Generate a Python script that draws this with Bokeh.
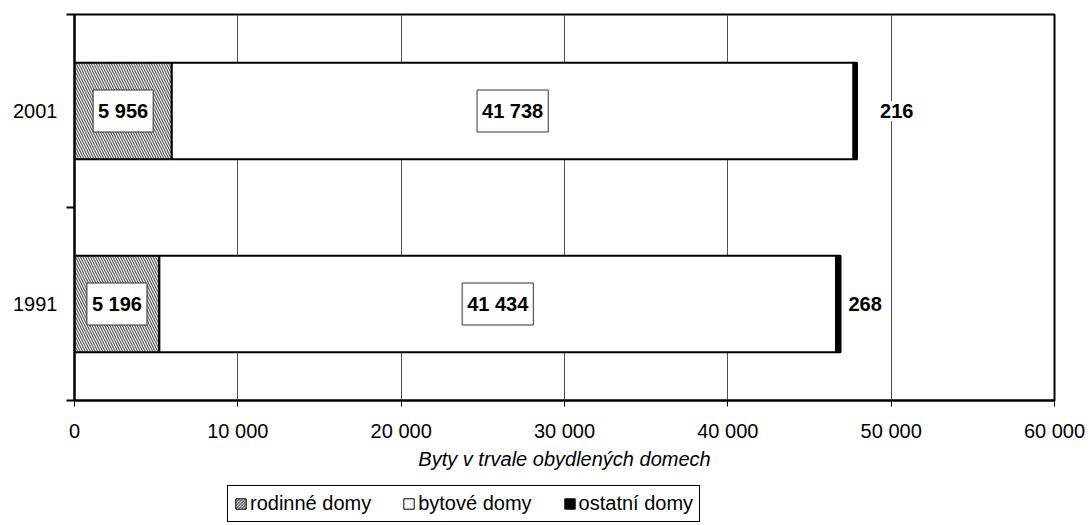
import numpy as np
from bokeh.plotting import figure
from bokeh.layouts import column
from bokeh.models import ColumnDataSource, Range1d, FixedTicker, Legend, LegendItem
from bokeh.core.properties import value
from bokeh.embed import file_html
from bokeh.resources import INLINE

# ---- data ----
years = ["1991", "2001"]
rodinne = [5196, 5956]
bytove = [41434, 41738]
ostatni = [268, 216]
series_names = ["rodinné domy", "bytové domy", "ostatní domy"]
x_ticks = [0, 10000, 20000, 30000, 40000, 50000, 60000]
x_tick_labels = ["0", "10 000", "20 000", "30 000", "40 000", "50 000", "60 000"]
x_title = "Byty v trvale obydlených domech"

FONT = "Liberation Sans"
FS = "20px"

def fmt(v):
    return f"{v:,}".replace(",", " ")

r = np.array(rodinne, dtype=float)
b = np.array(bytove, dtype=float)
o = np.array(ostatni, dtype=float)
ypos = np.arange(len(years)) + 0.5

src = ColumnDataSource(dict(
    y=ypos,
    r0=np.zeros_like(r), r1=r,
    b0=r, b1=r + b,
    o0=r + b, o1=r + b + o,
    rc=r / 2, bc=r + b / 2,
    rt=[fmt(v) for v in rodinne], bt=[fmt(v) for v in bytove], ot=[fmt(v) for v in ostatni],
    ooff=[5, 20],
))

p = figure(frame_width=980, frame_height=386, output_backend="svg", toolbar_location=None,
           x_range=Range1d(0, 60000), y_range=Range1d(0, len(years)),
           min_border_left=74, min_border_top=14, min_border_right=35, min_border_bottom=76)
p.background_fill_color = "white"
p.border_fill_color = "white"
p.outline_line_color = "black"
p.outline_line_width = 2

BAR_H = 0.5
rod_style = dict(fill_color="white", hatch_pattern="\\", hatch_color="#555555",
                 hatch_scale=5, hatch_weight=1.2, line_color="black", line_width=2)
byt_style = dict(fill_color="white", line_color="black", line_width=2)
ost_style = dict(fill_color="black", line_color="black", line_width=2)

p.hbar(y="y", left="r0", right="r1", height=BAR_H, source=src, **rod_style)
p.hbar(y="y", left="b0", right="b1", height=BAR_H, source=src, **byt_style)
p.hbar(y="y", left="o0", right="o1", height=BAR_H, source=src, **ost_style)

common = dict(text_font=value(FONT), text_font_size=FS, text_font_style="bold",
              text_color="black", text_baseline="middle")
box_pad = dict(left=5, right=5, top=10, bottom=10)
p.text(x="rc", y="y", text="rt", source=src, text_align="center",
       background_fill_color="white", border_line_color="#333333", border_line_width=1,
       padding=box_pad, **common)
p.text(x="bc", y="y", text="bt", source=src, text_align="center",
       background_fill_color="white", border_line_color="#333333", border_line_width=1,
       padding=box_pad, **common)
p.text(x="o1", y="y", text="ot", source=src, text_align="left", x_offset="ooff",
       background_fill_color="white", padding=3, **common)

# x axis
xa = p.xaxis[0]
xa.ticker = FixedTicker(ticks=x_ticks)
xa.major_label_overrides = {t: l for t, l in zip(x_ticks, x_tick_labels)}
xa.axis_line_width = 2
xa.axis_line_color = "black"
xa.major_tick_in = 0
xa.major_tick_out = 6
xa.major_tick_line_color = "black"
xa.minor_tick_out = 0
xa.minor_tick_in = 0
xa.major_label_standoff = 13
xa.major_label_text_font = FONT
xa.major_label_text_font_size = FS
xa.major_label_text_color = "black"
xa.axis_label = x_title
xa.axis_label_text_font = FONT
xa.axis_label_text_font_size = FS
xa.axis_label_text_font_style = "italic"
xa.axis_label_text_color = "black"
xa.axis_label_standoff = 3

# y axis
ya = p.yaxis[0]
ya.ticker = FixedTicker(ticks=list(ypos), minor_ticks=list(range(len(years) + 1)))
ya.major_label_overrides = {float(v): yr for v, yr in zip(ypos, years)}
ya.axis_line_width = 2
ya.axis_line_color = "black"
ya.major_tick_in = 0
ya.major_tick_out = 0
ya.minor_tick_in = 0
ya.minor_tick_out = 8
ya.minor_tick_line_width = 2
ya.minor_tick_line_color = "black"
ya.major_label_standoff = 9
ya.major_label_text_font = FONT
ya.major_label_text_font_size = FS
ya.major_label_text_color = "black"

p.ygrid.visible = False
p.xgrid.grid_line_color = "#505050"
p.xgrid.grid_line_width = 1

# ---- legend strip: same bars, placed outside this strip's visible range, so only keys show ----
p2 = figure(width=1089, height=49, output_backend="svg", toolbar_location=None,
            x_range=Range1d(1e7, 2e7), y_range=Range1d(100, 101),
            x_axis_location=None, y_axis_location=None,
            min_border_left=0, min_border_right=0, min_border_top=0, min_border_bottom=0)
p2.outline_line_color = None
p2.grid.visible = False
p2.background_fill_color = "white"
p2.border_fill_color = "white"
leg_rod = dict(rod_style, line_width=1, hatch_scale=3, hatch_weight=1)
leg_byt = dict(byt_style, line_width=1)
leg_ost = dict(ost_style, line_width=1)
l_rod = p2.hbar(y="y", left="r0", right="r1", height=BAR_H, source=src, **leg_rod)
l_byt = p2.hbar(y="y", left="b0", right="b1", height=BAR_H, source=src, **leg_byt)
l_ost = p2.hbar(y="y", left="o0", right="o1", height=BAR_H, source=src, **leg_ost)

legend = Legend(items=[LegendItem(label=series_names[0], renderers=[l_rod]),
                       LegendItem(label=series_names[1], renderers=[l_byt]),
                       LegendItem(label=series_names[2], renderers=[l_ost])],
                orientation="horizontal", location=(153, 3),
                label_text_font=FONT, label_text_font_size=FS, label_text_color="black",
                label_standoff=3, spacing=31, glyph_width=13, glyph_height=13,
                padding=6, margin=0,
                border_line_color="black", border_line_width=1, border_line_alpha=1,
                background_fill_color="white", background_fill_alpha=1)
p2.add_layout(legend, "center")

layout = column(p, p2, spacing=0)
open("out.html", "w").write(file_html(layout, INLINE))
